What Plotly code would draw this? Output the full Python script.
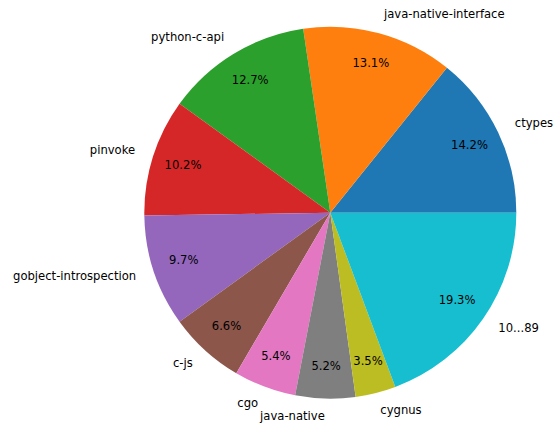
import numpy as np
import plotly.graph_objects as go

labels = ["ctypes", "java-native-interface", "python-c-api", "pinvoke",
          "gobject-introspection", "c-js", "cgo", "java-native", "cygnus", "10...89"]
values = [14.2, 13.1, 12.7, 10.2, 9.7, 6.6, 5.4, 5.2, 3.5, 19.3]
colors = ["#1f77b4", "#ff7f0e", "#2ca02c", "#d62728", "#9467bd",
          "#8c564b", "#e377c2", "#7f7f7f", "#bcbd22", "#17becf"]

W, H = 554, 427
CX, CY, R = 330.3, 212.7, 186.0   # pie centre / radius in pixels
RMAX = 1.12                       # radial range (pie radius = 1)
PCT_R, LBL_R = 0.83, 1.1
FONT = "DejaVu Sans"
FS = 11.6

vals = np.array(values, dtype=float)
total = vals.sum()
widths = vals / total * 360.0
starts = np.concatenate([[0.0], np.cumsum(widths)[:-1]])
mids = starts + widths / 2.0
pct_text = [f"{v / total * 100:.1f}%" for v in vals]
lbl_pos = ["middle right" if np.cos(np.radians(m)) >= 0 else "middle left" for m in mids]

pr = R * RMAX
dom_x = [(CX - pr) / W, (CX + pr) / W]
dom_y = [(H - CY - pr) / H, (H - CY + pr) / H]

fig = go.Figure()
fig.add_trace(go.Barpolar(
    r=[1.0] * len(vals), theta=mids, width=widths, base=0,
    marker=dict(color=colors, line=dict(width=0)),
    text=labels, customdata=pct_text,
    hovertemplate="%{text}: %{customdata}<extra></extra>",
    showlegend=False,
))
fig.add_trace(go.Scatterpolar(
    r=[PCT_R] * len(vals), theta=mids, mode="text", text=pct_text,
    textposition="middle center",
    textfont=dict(family=FONT, size=FS, color="black"),
    cliponaxis=False, hoverinfo="skip", showlegend=False,
))
fig.add_trace(go.Scatterpolar(
    r=[LBL_R] * len(vals), theta=mids, mode="text", text=labels,
    textposition=lbl_pos,
    textfont=dict(family=FONT, size=FS, color="black"),
    cliponaxis=False, hoverinfo="skip", showlegend=False,
))
fig.update_layout(
    width=W, height=H, margin=dict(l=0, r=0, t=0, b=0, pad=0),
    paper_bgcolor="white",
    font=dict(family=FONT, size=FS, color="black"),
    polar=dict(
        domain=dict(x=dom_x, y=dom_y),
        bgcolor="rgba(0,0,0,0)", bargap=0, hole=0,
        radialaxis=dict(range=[0, RMAX], visible=False, showgrid=False,
                        showline=False, showticklabels=False, ticks=""),
        angularaxis=dict(direction="counterclockwise", rotation=0, visible=False,
                         showgrid=False, showline=False, showticklabels=False, ticks=""),
    ),
)
fig.write_html(
    "out.html",
    config={"displayModeBar": False},
    post_script=("document.body.style.margin='0';document.body.style.padding='0';"
                 "document.body.style.overflow='hidden';"
                 "document.documentElement.style.overflow='hidden';"),
)
